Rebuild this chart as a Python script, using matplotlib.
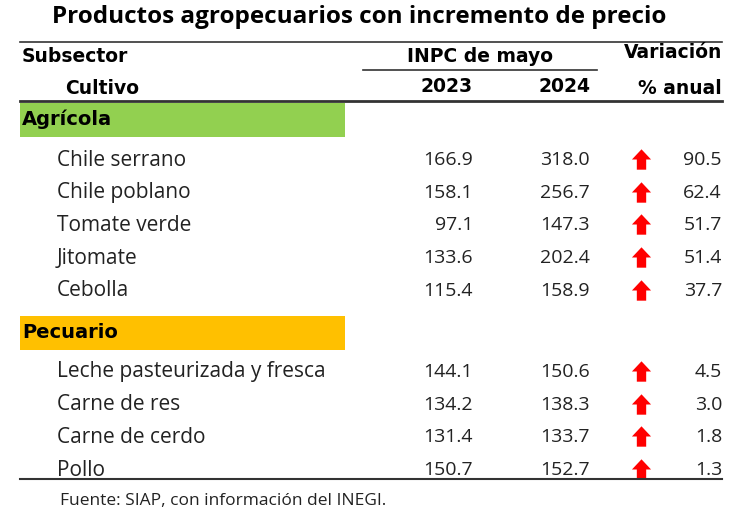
import matplotlib.pyplot as plt
from matplotlib.path import Path
from matplotlib.patches import Rectangle

# datos de la tabla
agricola = ["Chile serrano", "Chile poblano", "Tomate verde", "Jitomate", "Cebolla"]
agricola_2023 = [166.9, 158.1, 97.1, 133.6, 115.4]
agricola_2024 = [318.0, 256.7, 147.3, 202.4, 158.9]
agricola_var = [90.5, 62.4, 51.7, 51.4, 37.7]

pecuario = ["Leche pasteurizada y fresca", "Carne de res", "Carne de cerdo", "Pollo"]
pecuario_2023 = [144.1, 134.2, 131.4, 150.7]
pecuario_2024 = [150.6, 138.3, 133.7, 152.7]
pecuario_var = [4.5, 3.0, 1.8, 1.3]

titulo = "Productos agropecuarios con incremento de precio"
fuente = "Fuente: SIAP, con información del INEGI."

plt.rcParams['font.family'] = ['Open Sans', 'DejaVu Sans']
fam_enc = ['DejaVu Sans']

fig = plt.figure(figsize=(7.5, 5.28), dpi=100)
ax = fig.add_axes([0, 0, 1, 1])
ax.set_xlim(0, 750)
ax.set_ylim(528, 0)
ax.axis('off')

# flecha roja (marcador)
flecha = Path([(-0.47, 0.0), (0, 0.5), (0.47, 0.0), (0.23, 0.0), (0.23, -0.5),
               (-0.23, -0.5), (-0.23, 0.0), (-0.47, 0.0)],
              [Path.MOVETO] + [Path.LINETO] * 6 + [Path.CLOSEPOLY])

x_lbl, x_23, x_24, x_arr, x_var = 57, 473, 590, 641, 722
fs = 15
fs_num = 14
col_txt = '#222222'

ax.text(359, 17, titulo, ha='center', va='center', fontsize=17.5, fontweight='bold')

# encabezados
ax.plot([20, 722], [42, 42], color='#333333', lw=1.2)
ax.text(22, 56, "Subsector", ha='left', va='center', fontsize=13.5, fontweight='bold', family=fam_enc)
ax.text(480, 56, "INPC de mayo", ha='center', va='center', fontsize=13.5, fontweight='bold', family=fam_enc)
ax.text(722, 53, "Variación", ha='right', va='center', fontsize=13.5, fontweight='bold', family=fam_enc)
ax.plot([363, 597], [70, 70], color='#333333', lw=1.2)
ax.text(65, 88, "Cultivo", ha='left', va='center', fontsize=13.5, fontweight='bold', family=fam_enc)
ax.text(x_23, 86, "2023", ha='right', va='center', fontsize=13.5, fontweight='bold', family=fam_enc)
ax.text(x_24, 86, "2024", ha='right', va='center', fontsize=13.5, fontweight='bold', family=fam_enc)
ax.text(722, 88, "% anual", ha='right', va='center', fontsize=13.5, fontweight='bold', family=fam_enc)
ax.plot([20, 722], [101, 101], color='#333333', lw=2)


def bloque(nombre, color, y_caja, cultivos, v23, v24, var, y0, paso=32.7):
    ax.add_patch(Rectangle((20, y_caja), 325, 34, facecolor=color, edgecolor='none'))
    ax.text(22, y_caja + 16, nombre, ha='left', va='center', fontsize=14, fontweight='bold', family=fam_enc)
    for i, c in enumerate(cultivos):
        y = y0 + i * paso
        ax.text(x_lbl, y, c, ha='left', va='center', fontsize=fs, color=col_txt)
        ax.text(x_23, y, f"{v23[i]:.1f}", ha='right', va='center', fontsize=fs_num, color=col_txt)
        ax.text(x_24, y, f"{v24[i]:.1f}", ha='right', va='center', fontsize=fs_num, color=col_txt)
        ax.text(x_var, y, f"{var[i]:.1f}", ha='right', va='center', fontsize=fs_num, color=col_txt)
        ax.scatter([x_arr], [y - 1], marker=flecha, s=215, color='#FF0000', linewidths=0)


bloque("Agrícola", '#92D050', 103, agricola, agricola_2023, agricola_2024, agricola_var, 160)
bloque("Pecuario", '#FFC000', 316, pecuario, pecuario_2023, pecuario_2024, pecuario_var, 372)

ax.plot([20, 722], [479, 479], color='#333333', lw=1.5)
ax.text(60, 501, fuente, ha='left', va='center', fontsize=12.5, color=col_txt)

fig.savefig("out.png", dpi=100)
